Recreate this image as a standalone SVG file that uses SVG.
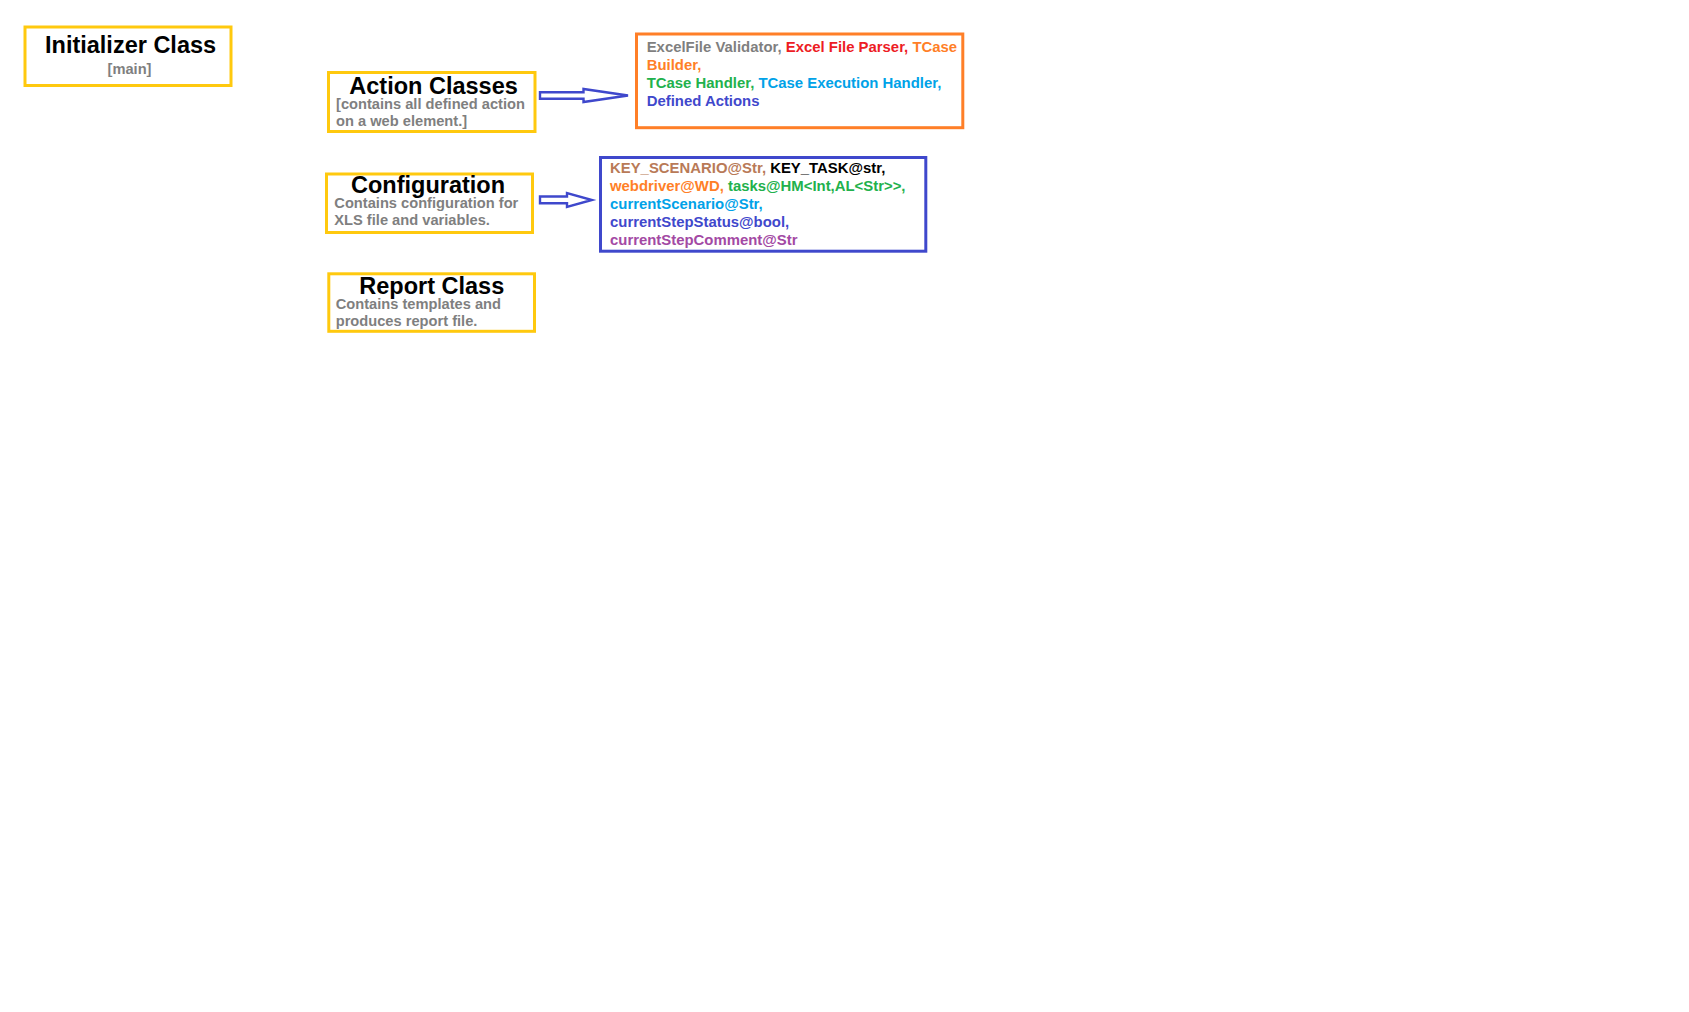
<svg xmlns="http://www.w3.org/2000/svg" width="1689" height="1012" viewBox="0 0 1689 1012">
<style>
.box{fill:#ffffff;stroke:#ffc90e;stroke-width:3}
.t{font-family:"Liberation Sans",Arial,sans-serif;font-weight:bold}
.title{font-size:23.5px;fill:#000000}
.sub{font-size:14.67px;fill:#7f7f7f}
.det{font-size:14.9px}
.arrow{fill:#ffffff;stroke:#3f48cc;stroke-width:2.4;stroke-linejoin:miter}
.gray{fill:#7f7f7f}.red{fill:#ed1c24}.orange{fill:#ff7f27}.green{fill:#22b14c}.lblue{fill:#00a2e8}.indigo{fill:#3f48cc}.brown{fill:#b97a57}.black{fill:#000000}.purple{fill:#a349a4}
</style>
<rect width="1689" height="1012" fill="#ffffff"/>
<g id="initializer">
<rect class="box" x="25" y="27" width="206" height="58.5"/>
<text class="t title" x="45" y="53.3">Initializer Class</text>
<text class="t sub" x="129.5" y="74.3" text-anchor="middle">[main]</text>
</g>
<g id="action-classes">
<rect class="box" x="328.5" y="72.5" width="206.5" height="59"/>
<text class="t title" x="349.3" y="93.6">Action Classes</text>
<text class="t sub" x="336" y="108.5">[contains all defined action</text>
<text class="t sub" x="336" y="125.8">on a web element.]</text>
</g>
<g id="configuration">
<rect class="box" x="326.5" y="174" width="206" height="58.5"/>
<text class="t title" x="351" y="192.6">Configuration</text>
<text class="t sub" x="334.3" y="207.9">Contains configuration for</text>
<text class="t sub" x="334.3" y="225.1">XLS file and variables.</text>
</g>
<g id="report-class">
<rect class="box" x="328.8" y="273.8" width="205.7" height="57.5"/>
<text class="t title" x="359.3" y="294.1">Report Class</text>
<text class="t sub" x="335.7" y="309.2">Contains templates and</text>
<text class="t sub" x="335.7" y="326.4">produces report file.</text>
</g>
<g id="action-details">
<rect x="636.5" y="34" width="326.3" height="93.7" fill="#ffffff" stroke="#ff7f27" stroke-width="3"/>
<text class="t det" x="646.7" y="52.3"><tspan class="gray">ExcelFile Validator, </tspan><tspan class="red">Excel File Parser, </tspan><tspan class="orange">TCase</tspan></text>
<text class="t det" x="646.7" y="70.2"><tspan class="orange">Builder,</tspan></text>
<text class="t det" x="646.7" y="88.2"><tspan class="green">TCase Handler, </tspan><tspan class="lblue">TCase Execution Handler,</tspan></text>
<text class="t det" x="646.7" y="106.2"><tspan class="indigo">Defined Actions</tspan></text>
</g>
<g id="configuration-details">
<rect x="600.5" y="157.5" width="325.3" height="93.7" fill="#ffffff" stroke="#3f48cc" stroke-width="3"/>
<text class="t det" x="610" y="173.3"><tspan class="brown">KEY_SCENARIO@Str, </tspan><tspan class="black">KEY_TASK@str,</tspan></text>
<text class="t det" x="610" y="191.3"><tspan class="orange">webdriver@WD, </tspan><tspan class="green">tasks@HM&lt;Int,AL&lt;Str&gt;&gt;,</tspan></text>
<text class="t det" x="610" y="209.3"><tspan class="lblue">currentScenario@Str,</tspan></text>
<text class="t det" x="610" y="227.3"><tspan class="indigo">currentStepStatus@bool,</tspan></text>
<text class="t det" x="610" y="245.1"><tspan class="purple">currentStepComment@Str</tspan></text>
</g>
<g id="connectors">
<polygon class="arrow" points="540,92.2 583.5,92.2 583.5,89 628,95.5 583.5,102 583.5,98.8 540,98.8"/>
<polygon class="arrow" points="540,196.5 567,196.5 567,193 592,200 567,207 567,203.3 540,203.3"/>
</g>
</svg>
